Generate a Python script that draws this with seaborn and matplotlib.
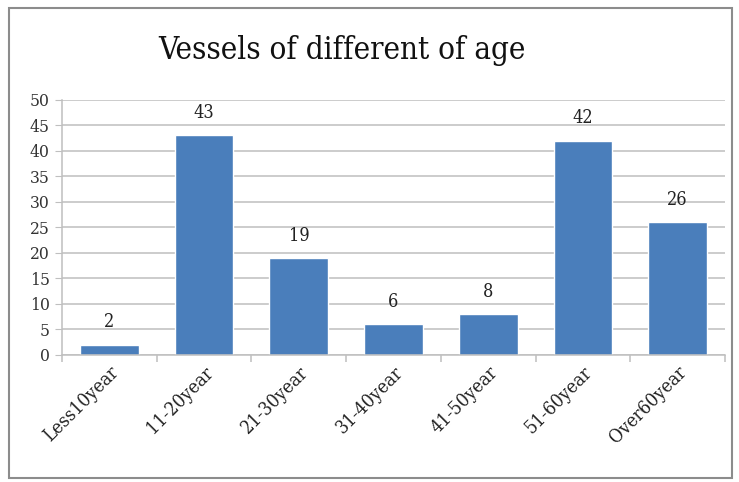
import numpy as np
import pandas as pd
import seaborn as sns
import matplotlib.pyplot as plt
from matplotlib.patches import Rectangle

# --- data ---
age_groups = ['Less10year', '11-20year', '21-30year', '31-40year',
              '41-50year', '51-60year', 'Over60year']
vessels = [2, 43, 19, 6, 8, 42, 26]
y_ticks = [0, 5, 10, 15, 20, 25, 30, 35, 40, 45, 50]

df = pd.DataFrame({'age': age_groups, 'count': vessels})

sns.set_style('white')
plt.rcParams['font.family'] = ['DejaVu Serif']
plt.rcParams['font.stretch'] = 'condensed'

fig = plt.figure(figsize=(7.39, 4.82), dpi=100)
ax = fig.add_axes([0.084, 0.264, 0.897, 0.529])

sns.barplot(data=df, x='age', y='count', color='#4A7EBB', saturation=1,
            width=0.62, ax=ax)

# value labels above bars
for i, v in enumerate(vessels):
    ax.text(i, v + 2.6, str(v), ha='center', va='bottom', fontsize=13,
            color='#222222')

ax.set_ylim(0, 50)
ax.set_xlim(-0.5, len(age_groups) - 0.5)
ax.set_yticks(y_ticks)
ax.yaxis.grid(True, color='#BFBFBF', linewidth=1.1)
ax.set_axisbelow(True)
ax.set_xlabel('')
ax.set_ylabel('')

for s in ['top', 'right']:
    ax.spines[s].set_visible(False)
for s in ['left', 'bottom']:
    ax.spines[s].set_color('#BFBFBF')
    ax.spines[s].set_linewidth(1.1)

ax.tick_params(axis='y', left=True, length=5, color='#BFBFBF',
               labelsize=12.5, labelcolor='#333333', pad=4)
ax.set_xticks(range(len(age_groups)))
ax.set_xticklabels(age_groups, rotation=45, ha='right',
                   rotation_mode='anchor', fontsize=13.5, color='#222222')
ax.tick_params(axis='x', which='major', length=0, pad=6)
ax.set_xticks(np.arange(-0.5, len(age_groups), 1), minor=True)
ax.tick_params(axis='x', which='minor', bottom=True, length=5,
               color='#BFBFBF', width=1.1)

fig.text(0.463, 0.896, 'Vessels of different of age', ha='center',
         va='center', fontsize=22.5, color='#111111')

# outer chart border
fig.patches.append(Rectangle((0.012, 0.008), 0.978, 0.975,
                             transform=fig.transFigure, fill=False,
                             edgecolor='#8C8C8C', linewidth=1.5))

fig.savefig('out.png', dpi=100)
